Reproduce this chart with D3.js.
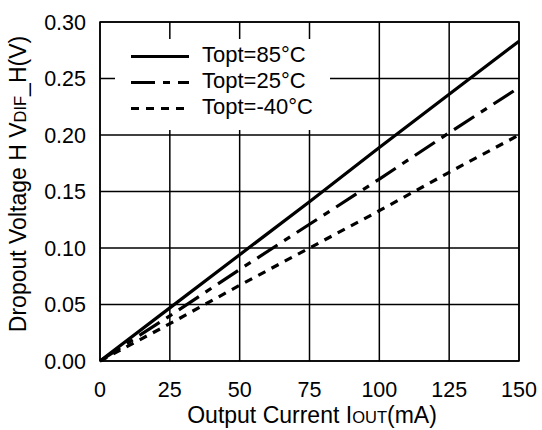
<!DOCTYPE html>
<html><head><meta charset="utf-8">
<script src="https://cdn.jsdelivr.net/npm/d3@7"></script>
<style>body{margin:0;background:#fff}svg{display:block;font-family:"Liberation Sans",Arial,sans-serif}</style>
</head><body>
<script>
const currents = [0, 25, 50, 75, 100, 125, 150];
const v85 = [0, 0.047, 0.094, 0.141, 0.189, 0.236, 0.283];
const v25 = [0, 0.040, 0.081, 0.121, 0.161, 0.202, 0.242];
const vm40 = [0, 0.033, 0.067, 0.100, 0.133, 0.167, 0.200];
const xTicks = [0, 25, 50, 75, 100, 125, 150];
const yTicks = [0, 0.05, 0.10, 0.15, 0.20, 0.25, 0.30];
const seriesNames = ["Topt=85°C", "Topt=25°C", "Topt=-40°C"];
const dashes = [null, "24,8,7,8", "8,7"];

const W = 542, H = 430;
const m = {l: 100, r: 23, t: 22, b: 69};
const svg = d3.select("body").append("svg").attr("width", W).attr("height", H);
const x = d3.scaleLinear().domain([0,150]).range([m.l, W - m.r]);
const y = d3.scaleLinear().domain([0,0.30]).range([H - m.b, m.t]);

const g = svg.append("g");
g.selectAll(".vg").data(xTicks).enter().append("line")
  .attr("x1", d=>x(d)).attr("x2", d=>x(d)).attr("y1", y(0)).attr("y2", y(0.3))
  .attr("stroke","#000").attr("stroke-width",1.5);
g.selectAll(".hg").data(yTicks).enter().append("line")
  .attr("x1", x(0)).attr("x2", x(150)).attr("y1", d=>y(d)).attr("y2", d=>y(d))
  .attr("stroke","#000").attr("stroke-width",1.5);

const lg = svg.append("g");
lg.append("rect").attr("x",115).attr("y",39).attr("width",215).attr("height",91).attr("fill","#fff");

const all = [v85, v25, vm40];
const line = d3.line().x((d,i)=>x(currents[i])).y(d=>y(d));
all.forEach((s,k)=>{
  svg.append("path").datum(s).attr("d", line).attr("fill","none")
    .attr("stroke","#000").attr("stroke-width",3.2)
    .attr("stroke-dasharray", dashes[k]);
});

svg.append("rect").attr("x",x(0)).attr("y",y(0.3)).attr("width",x(150)-x(0)).attr("height",y(0)-y(0.3))
  .attr("fill","none").attr("stroke","#000").attr("stroke-width",1.5);

seriesNames.forEach((n,k)=>{
  const yy = 56.5 + k*26;
  lg.append("line").attr("x1",131).attr("x2",189).attr("y1",yy).attr("y2",yy)
    .attr("stroke","#000").attr("stroke-width",3.2).attr("stroke-dasharray", dashes[k]);
  lg.append("text").attr("x",202).attr("y",yy+5.5).attr("font-size",22).text(n);
});

svg.selectAll(".xl").data(xTicks).enter().append("text")
  .attr("x", d=>x(d)).attr("y", 397).attr("text-anchor","middle").attr("font-size",21.5)
  .text(d=>d);
svg.selectAll(".yl").data(yTicks).enter().append("text")
  .attr("x", 86).attr("y", d=>y(d)+7.5).attr("text-anchor","end").attr("font-size",21.5)
  .text(d=>d.toFixed(2));

const xt = svg.append("text").attr("x", 312).attr("y", 423).attr("text-anchor","middle").attr("font-size",23);
xt.append("tspan").text("Output Current I");
xt.append("tspan").attr("font-size",16.5).text("OUT");
xt.append("tspan").text("(mA)");

const yt = svg.append("text").attr("transform","translate(26,184) rotate(-90)").attr("text-anchor","middle").attr("font-size",23);
yt.append("tspan").text("Dropout Voltage H V");
yt.append("tspan").attr("font-size",16.5).text("DIF");
yt.append("tspan").text("_H(V)");
</script>
</body></html>
